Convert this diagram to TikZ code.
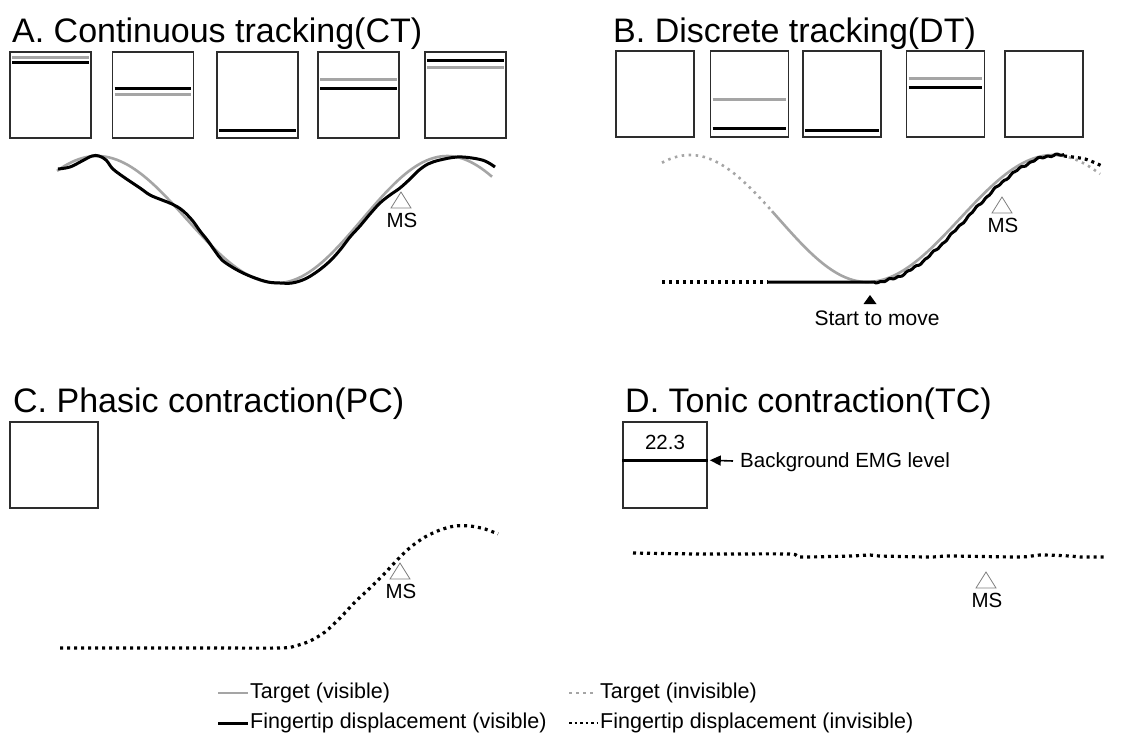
\documentclass[tikz,border=0pt]{standalone}
\usepackage{fontspec}
\setmainfont{Liberation Sans}
\usetikzlibrary{calc,arrows.meta}
\definecolor{tgtgray}{RGB}{165,165,165}
\definecolor{frame}{RGB}{45,45,45}

\tikzset{
  screen/.style={draw=frame, line width=1.6pt, minimum width=81pt, minimum height=86pt, inner sep=0pt},
  tgtbar/.style={draw=tgtgray, line width=3pt},
  fngbar/.style={draw=black, line width=3.2pt},
  tgtvis/.style={tgtgray, line width=2.6pt},
  fngvis/.style={black, line width=3pt},
  tgtinv/.style={tgtgray, line width=2.6pt, dash pattern=on 2.5pt off 4.5pt},
  fnginv/.style={black, line width=3.2pt, dash pattern=on 3pt off 4pt},
  title/.style={font=\fontsize{34}{40}\selectfont, anchor=base west, inner sep=0pt},
  small/.style={font=\fontsize{20.5}{24}\selectfont, inner sep=0pt},
  legend/.style={font=\fontsize{21.5}{24}\selectfont, inner sep=0pt, anchor=west, text height=15pt, text depth=4.5pt},
  mstri/.style={draw=gray, line width=0.8pt, fill=white},
}

% horizontal level bar inside a screen node, #2 = depth below its top edge
\newcommand\lvlbar[3]{\draw[#3] ($(#1.north west)+(3,#2)$) -- ($(#1.north east)+(-3,#2)$);}
% open "MS" marker: #1 name, apex at (#2,#3)
\newcommand\msmark[3]{%
  \draw[mstri] (#2,#3) -- ++(-10,16) -- ++(20,0) -- cycle;
  \node[small] (#1) at (#2+1,#3+28) {MS};}

\begin{document}
\begin{tikzpicture}[x=1pt,y=-1pt]
\fill[white] (0,0) rectangle (1144,737);
\useasboundingbox (0,0) rectangle (1144,737);

% ---------------- A. Continuous tracking ----------------
\node[title] (tA) at (12,42) {A. Continuous tracking(CT)};
\node[screen] (a1) at (50.5,95) {};
\node[screen] (a2) at (153,95) {};
\node[screen] (a3) at (257.5,95) {};
\node[screen] (a4) at (358.5,95) {};
\node[screen] (a5) at (465.5,95) {};
\lvlbar{a1}{6}{tgtbar}  \lvlbar{a1}{11}{fngbar}
\lvlbar{a2}{43}{tgtbar} \lvlbar{a2}{37}{fngbar}
\lvlbar{a3}{79}{fngbar}
\lvlbar{a4}{28}{tgtbar} \lvlbar{a4}{37}{fngbar}
\lvlbar{a5}{16}{tgtbar} \lvlbar{a5}{9}{fngbar}

\draw[tgtvis] plot[domain=57:277, samples=60] (\x,{219.5-63.5*cos(\x-97)})
   -- plot[domain=277:492, samples=60] (\x,{219.5+63.5*cos((\x-277)*1.0588)});
\draw[fngvis, line join=round] plot[smooth, tension=0.6] coordinates {
  (58,169) (70,167) (82,161) (92,156) (99,156) (106,160) (112,168) (118,173)
  (128,180) (140,188) (150,195) (162,200) (172,204) (182,210) (192,220)
  (200,231) (208,241) (215,251) (222,260) (232,267) (243,273) (255,278)
  (268,282) (280,283) (292,283) (305,279) (318,271) (330,261) (340,250)
  (350,237) (360,226) (370,214) (380,203) (390,195) (400,188) (410,179)
  (418,171) (428,164) (440,160) (457,157) (472,158) (485,161) (495,167)};
\msmark{msA}{401}{192}

% ---------------- B. Discrete tracking ----------------
\node[title] (tB) at (613,42) {B. Discrete tracking(DT)};
\node[screen, minimum width=78pt] (b1) at (655,94) {};
\node[screen, minimum width=78pt] (b2) at (749.5,94) {};
\node[screen, minimum width=78pt] (b3) at (842,94) {};
\node[screen, minimum width=78pt] (b4) at (945.5,94) {};
\node[screen, minimum width=78pt] (b5) at (1044,94) {};
\lvlbar{b2}{49}{tgtbar} \lvlbar{b2}{78}{fngbar}
\lvlbar{b3}{80}{fngbar}
\lvlbar{b4}{28}{tgtbar} \lvlbar{b4}{37}{fngbar}

\draw[tgtinv] plot[domain=662:772, samples=40] (\x,{218.5-63.5*cos((\x-690)*1.01695)});
\draw[tgtvis] plot[domain=772:867, samples=40] (\x,{218.5-63.5*cos((\x-690)*1.01695)})
   -- plot[domain=867:1062, samples=60] (\x,{218.5+63.5*cos((\x-867)*0.96774)});
\draw[tgtinv] plot[domain=1062:1100, samples=20] (\x,{218.5+63.5*cos((\x-867)*0.96774)});

\draw[fnginv] (662,282) -- (768,282);
\draw[fngvis, line join=round] (768,282) -- (874,282)
   -- plot[domain=874:1064, samples=90] (\x,{218.5+63.5*cos((\x-874)*0.9737)+0.7*sin((\x-874)*41)+0.6*sin((\x-874)*17)});
\draw[fnginv] plot[smooth] coordinates {(1064,156) (1085,159) (1102,166)};

\fill (870,295) -- ++(-6.5,9) -- ++(13,0) -- cycle;
\node[small, font=\fontsize{21}{24}\selectfont] (start) at (877,318) {Start to move};
\msmark{msB}{1002}{197}

% ---------------- C. Phasic contraction ----------------
\node[title] (tC) at (13,412) {C. Phasic contraction(PC)};
\node[screen, minimum width=88pt] (c1) at (54,465) {};
\draw[fnginv] plot[smooth, tension=0.5] coordinates {
  (60,648) (200,648) (280,648) (295,646) (310,641) (325,632) (340,618)
  (355,602) (370,588) (385,573) (400,557) (412,546) (425,537) (440,530)
  (455,526) (470,526) (485,529) (498,534)};
\msmark{msC}{400}{563}

% ---------------- D. Tonic contraction ----------------
\node[title] (tD) at (625,412) {D. Tonic contraction(TC)};
\node[screen, minimum width=84pt] (d1) at (665,465) {};
\draw[black, line width=2.6pt] ($(d1.north west)+(0,39)$) coordinate (dL) -- ($(d1.north east)+(0,39)$) coordinate (dlev);
\node[small] (val) at (665,442) {22.3};
\node[small, anchor=west] (bg) at (740,462) {Background EMG level};
\coordinate (arrtail) at (733,461);
\draw[line width=1.6pt, -{Triangle[length=11pt,width=10pt]}] (arrtail) -- ([xshift=2pt]dlev);
\draw[fnginv] plot[smooth, tension=0.4] coordinates {
  (633,553) (700,554) (790,554) (800,557) (850,556) (870,555) (880,556)
  (930,557) (950,556) (1020,557) (1040,555) (1070,556) (1080,557) (1107,557)};
\msmark{msD}{986}{572}

% ---------------- legend ----------------
\node[legend] (l1) at (250,693) {Target (visible)};
\node[legend] (l2) at (250,723) {Fingertip displacement (visible)};
\node[legend] (l3) at (600,693) {Target (invisible)};
\node[legend] (l4) at (600,723) {Fingertip displacement (invisible)};
\draw[tgtvis] ([xshift=-32pt]l1.west) -- ([xshift=-2pt]l1.west);
\draw[fngvis] ([xshift=-32pt]l2.west) -- ([xshift=-2pt]l2.west);
\draw[tgtinv, line width=2pt] ([xshift=-31pt]l3.west) -- ([xshift=-3pt]l3.west);
\draw[fnginv, line width=2.6pt, dash pattern=on 2.5pt off 3pt] ([xshift=-31pt]l4.west) -- ([xshift=-3pt]l4.west);
\end{tikzpicture}
\end{document}
